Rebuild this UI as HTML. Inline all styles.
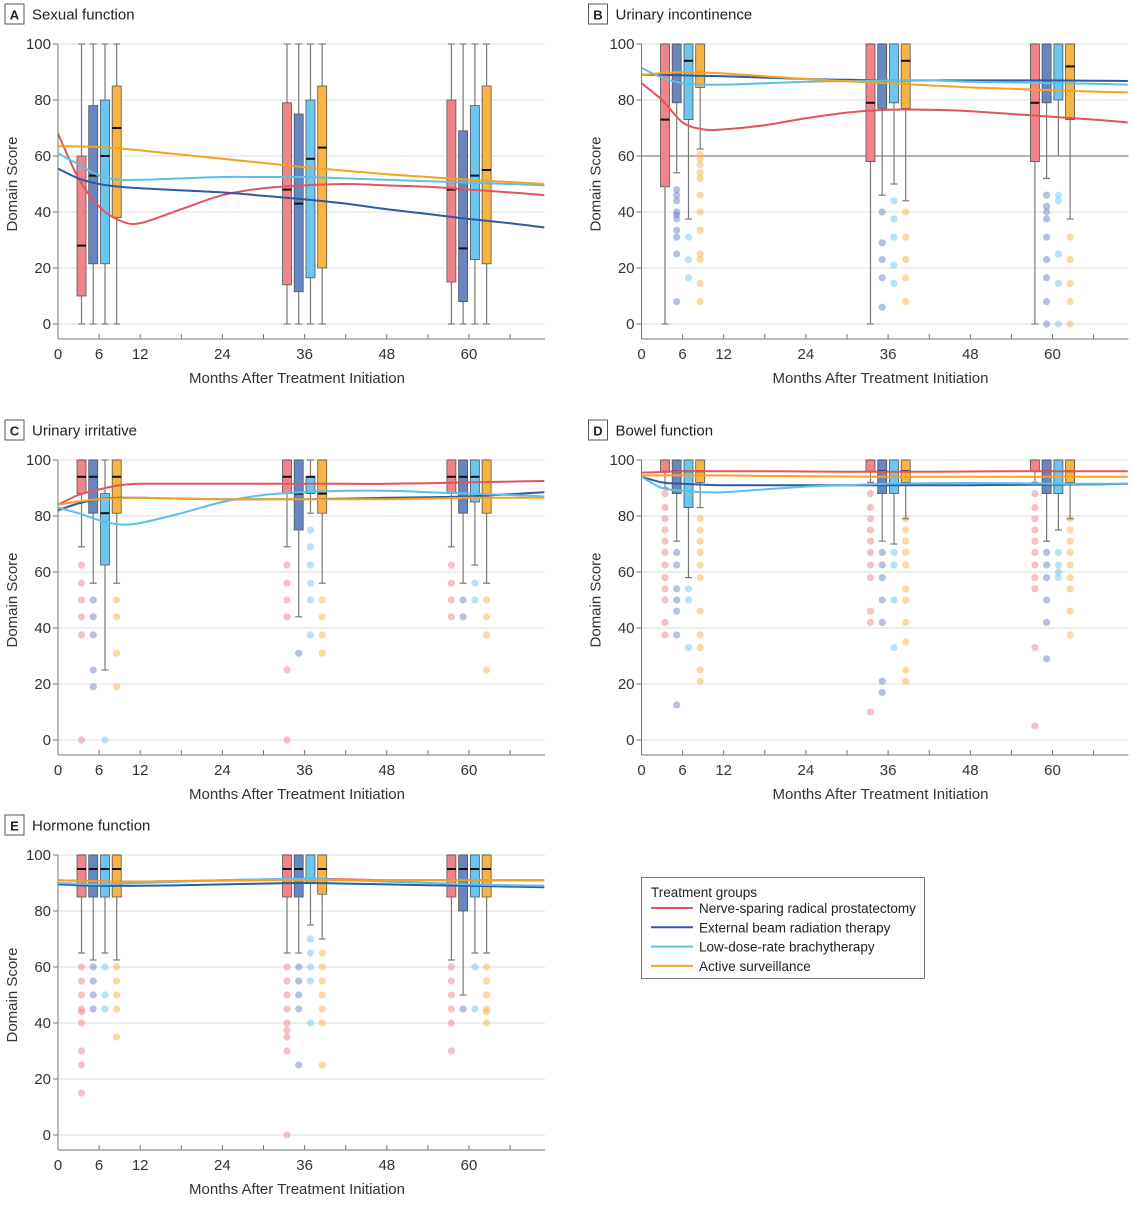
<!DOCTYPE html>
<html><head><meta charset="utf-8">
<style>
html,body{margin:0;padding:0;background:#fff;}
body{width:1131px;height:1200px;overflow:hidden;font-family:"Liberation Sans",sans-serif;}
svg text{font-family:"Liberation Sans",sans-serif;}
</style></head>
<body>
<svg id="chart" width="1131" height="1200" viewBox="0 0 1131 1200" xmlns="http://www.w3.org/2000/svg"></svg>
<script>
// ---- shared data ----
const timeMonths = [6, 36, 60];
const groupNames = ["Nerve-sparing radical prostatectomy","External beam radiation therapy","Low-dose-rate brachytherapy","Active surveillance"];
const xTicks = [0, 6, 12, 18, 24, 30, 36, 42, 48, 54, 60, 66];
const xTickLabels = ["0","6","12","","24","","36","","48","","60",""];
const yTicks = [0, 20, 40, 60, 80, 100];
const curveMonths = [0,3,6,9,12,18,24,30,36,42,48,54,60,66,71];

// ---- Panel A: Sexual function ----
const boxesA = [
 [0,10,28,60,100],[0,21.5,53,78,100],[0,21.5,60,80,100],[0,38,70,85,100],
 [0,14,48,79,100],[0,11.5,43,75,100],[0,16.5,59,80,100],[0,20,63,85,100],
 [0,15,48,80,100],[0,8,27,69,100],[0,23,53,78,100],[0,21.5,55,85,100]];
const outliersA = [[],[],[],[],[],[],[],[],[],[],[],[]];
const curveA_red = [68,52,42,37,36,41,46,48.5,49.5,50,49.5,49,48,47,46];
const curveA_blue = [55.5,52,50,49,48.5,47.7,47,45.8,44.5,43,41,39.3,37.5,36,34.5];
const curveA_cyan = [61,57,53,51.5,51.5,52,52.5,52.5,52.5,52,51.5,51,50.5,50,49.5];
const curveA_orange = [63.5,63.4,63.2,62.7,62,60.5,59,57.5,56,54.7,53.5,52.5,51.5,50.7,50];

// ---- Panel B: Urinary incontinence ----
const boxesB = [
 [0,49,73,100,100],[54,79,null,100,100],[37.5,73,94,100,100],[62.5,84.5,null,100,100],
 [0,58,79,100,100],[46,77,null,100,100],[50,79,null,100,100],[44,77,94,100,100],
 [0,58,79,100,100],[52,79,null,100,100],[60,80,null,100,100],[37.5,73,92,100,100]];
const outliersB = [
 [],[48,46,44,40,39,37.5,33.5,31,25,8],[31,23,16.5],[60.5,59,57,54,52,46,40,33.5,25,23,14.5,8],
 [],[40,29,23,16.5,6],[44,37.5,31,21,14.5],[40,31,23,16.5,8],
 [],[46,42,40,37.5,31,23,16.5,8,0],[46,44,25,14.5,0],[31,23,14.5,8,0]];
const curveB_red = [86,80,72,69.5,69.5,71,73.5,75.5,76.5,76.5,76,75,74,73,72];
const curveB_blue = [89,89,88.8,88.6,88.5,88,87.5,87.2,87,87,87,87,87,86.9,86.8];
const curveB_cyan = [91.5,88,86,85.5,85.5,86,86.5,86.8,87,87,86.5,86.3,86,85.8,85.5];
const curveB_orange = [89,89.6,90,89.8,89.5,88.5,87.5,86.7,86,85.2,84.5,84,83.5,83,82.7];

// ---- Panel C: Urinary irritative ----
const boxesC = [
 [69,88,94,100,100],[56,81,94,100,100],[25,62.5,81,88,100],[56,81,94,100,100],
 [69,88,94,100,100],[44,75,88,100,100],[81,88,94,94,100],[56,81,88,100,100],
 [69,88,94,100,100],[56,81,94,100,100],[62.5,85,94,100,100],[56,81,null,100,100]];
const outliersC = [
 [62.5,56,50,44,37.5,0],[50,44,37.5,25,19],[0],[50,44,31,19],
 [62.5,56,50,44,25,0],[31],[75,69,62.5,56,50,37.5],[50,44,37.5,31],
 [62.5,56,50,44],[50,44],[56,50],[50,44,37.5,25]];
const curveC_red = [84,87.5,89.5,91,91.5,91.5,91.5,91.5,91.5,91.5,91.5,91.7,92,92.3,92.5];
const curveC_blue = [82,84.5,86,86.5,86.5,86.2,86,86,86,86.2,86.5,86.7,87,87.8,88.5];
const curveC_cyan = [83,81,78.5,77,77.5,81,85,87.5,88.5,89,89,88.5,88,87.5,87];
const curveC_orange = [84,85.2,86,86.3,86.5,86.2,86,86,86,86,86,86.2,86.5,86.5,86.5];

// ---- Panel D: Bowel function ----
const boxesD = [
 [90,96,null,100,100],[71,88,96,100,100],[58,83,96,100,100],[83,92,96,100,100],
 [92,96,null,100,100],[71,88,96,100,100],[70,88,null,100,100],[79,92,96,100,100],
 [92,96,null,100,100],[71,88,96,100,100],[75,88,null,100,100],[79,92,96,100,100]];
const outliersD = [
 [88,83,79,75,71,67,62.5,58,54,50,42,37.5],[67,62.5,54,50,46,37.5,12.5],[54,50,33],[79,75,71,67,62.5,58,46,37.5,33,25,21],
 [88,83,79,75,71,67,62.5,58,46,42,10],[67,62.5,58,50,42,21,17],[67,62.5,50,33],[79,75,71,67,62.5,54,50,42,35,25,21],
 [88,83,79,75,71,67,62.5,58,54,33,5],[67,62.5,58,50,42,29],[67,62.5,60,58],[79,75,71,67,62.5,58,54,46,37.5]];
const curveD_red = [95.5,95.7,96,96,96,96,95.9,95.8,95.8,95.8,95.9,96,96,96,96];
const curveD_blue = [94,92,91.5,91.2,91,91,91,91,91,91,91,91.1,91.2,91.3,91.5];
const curveD_cyan = [94,90,89,88.5,88.5,89.5,90.5,91,91.5,91.7,91.8,91.7,91.5,91.5,91.5];
const curveD_orange = [94.5,94.5,94.5,94.5,94.5,94.3,94.2,94.1,94,94,94,94,94,94,94];

// ---- Panel E: Hormone function ----
const boxesE = [
 [65,85,95,100,100],[62.5,85,95,100,100],[65,85,95,100,100],[62.5,85,95,100,100],
 [65,85,95,100,100],[65,85,95,100,100],[75,90,null,100,100],[70,86,95,100,100],
 [62.5,85,95,100,100],[50,80,95,100,100],[65,85,95,100,100],[65,85,95,100,100]];
const outliersE = [
 [60,55,50,45,44,40,30,25,15],[60,55,50,45],[60,50,45],[60,55,50,45,35],
 [60,55,50,45,40,37.5,35,30,0],[60,55,50,45,25],[70,65,60,55,40],[65,60,55,50,45,40,25],
 [60,55,50,45,40,30],[45],[60,45],[60,55,50,45,44,40]];
const curveE_red = [91,90.8,90.6,90.5,90.5,90.7,91,91.3,91.5,91.3,91,91,91,91,91];
const curveE_blue = [89.5,89.2,89,89,89,89.2,89.5,89.8,90,89.8,89.5,89.2,89,88.7,88.5];
const curveE_cyan = [90,89.7,89.5,89.7,90,90.5,91,91.3,91.5,91,90.5,90,89.5,89.2,89];
const curveE_orange = [91,90.8,90.6,90.5,90.5,90.7,90.8,91,91,91,91,91,91,91,91];

// ---- styling / layout (not data) ----
const lineColors = ["#e5535b","#2e5aa6","#5dc0ea","#f5a21f"];
const boxColors = ["#f0848a","#6886c2","#6cc7f0","#f7b445"];
const groupOffsets = [-2.57,-0.86,0.86,2.57];
const NS = "http://www.w3.org/2000/svg";
const svg = document.getElementById("chart");

function mk(tag, attrs, parent){
  const e = document.createElementNS(NS, tag);
  for (const k in attrs) e.setAttribute(k, attrs[k]);
  (parent||svg).appendChild(e);
  return e;
}
function smoothPath(pts){
  let d = "M" + pts[0][0].toFixed(1) + "," + pts[0][1].toFixed(1);
  for (let i=0;i<pts.length-1;i++){
    const p0 = pts[Math.max(0,i-1)], p1 = pts[i], p2 = pts[i+1], p3 = pts[Math.min(pts.length-1,i+2)];
    const c1x = p1[0] + (p2[0]-p0[0])/6, c1y = p1[1] + (p2[1]-p0[1])/6;
    const c2x = p2[0] - (p3[0]-p1[0])/6, c2y = p2[1] - (p3[1]-p1[1])/6;
    d += " C" + c1x.toFixed(1)+","+c1y.toFixed(1)+" "+c2x.toFixed(1)+","+c2y.toFixed(1)+" "+p2[0].toFixed(1)+","+p2[1].toFixed(1);
  }
  return d;
}

function drawPanel(cfg){
  const g = mk("g", {});
  
  
  const pxPerMonth = 6.85;
  const xS = m => cfg.x0 + m * pxPerMonth;
  const yS = v => cfg.top + (100 - v) * 2.8;
  const right = cfg.x0 + 487;
  const axisY = cfg.top + 295;

  // title
  const lb = mk("rect", {x:cfg.x0-53, y:cfg.top-40, width:19, height:20, fill:"#fff", stroke:"#555", "stroke-width":1}, g);
  
  
  const lt = mk("text", {x:cfg.x0-43.5, y:cfg.top-24.5, "text-anchor":"middle", "font-size":13, "font-weight":"bold", fill:"#222"}, g);
  lt.textContent = cfg.letter;
  
  
  const tt = mk("text", {x:cfg.x0-26, y:cfg.top-24.5, "font-size":15, fill:"#222"}, g);
  tt.textContent = cfg.title;
  
  

  // gridlines and y ticks
  yTicks.forEach(v => {
    const gl = mk("line", {x1:cfg.x0, x2:right, y1:yS(v), y2:yS(v), stroke:"#dcdcdc", "stroke-width":1}, g);
    
    
    mk("line", {x1:cfg.x0-5, x2:cfg.x0, y1:yS(v), y2:yS(v), stroke:"#777", "stroke-width":1}, g);
    const t = mk("text", {x:cfg.x0-7, y:yS(v)+5, "text-anchor":"end", "font-size":15, fill:"#333"}, g);
    t.textContent = String(v);
    
    
  });
  if (cfg.refLine !== undefined){
    const rl = mk("line", {x1:cfg.x0, x2:right, y1:yS(cfg.refLine), y2:yS(cfg.refLine), stroke:"#666", "stroke-width":1}, g);
    
    
  }
  // axes
  const ya = mk("line", {x1:cfg.x0, x2:cfg.x0, y1:yS(100), y2:axisY, stroke:"#777", "stroke-width":1}, g);
  
  
  const xa = mk("line", {x1:cfg.x0, x2:right, y1:axisY, y2:axisY, stroke:"#777", "stroke-width":1}, g);
  
  
  xTicks.forEach((m,i) => {
    mk("line", {x1:xS(m), x2:xS(m), y1:axisY, y2:axisY-5, stroke:"#777", "stroke-width":1}, g);
    if (xTickLabels[i]){
      const t = mk("text", {x:xS(m), y:axisY+20, "text-anchor":"middle", "font-size":15, fill:"#333"}, g);
      t.textContent = xTickLabels[i];
      
      
    }
  });
  const xt = mk("text", {x:cfg.x0+239, y:axisY+44, "text-anchor":"middle", "font-size":15, fill:"#333"}, g);
  xt.textContent = "Months After Treatment Initiation";
  
  
  const ytl = mk("text", {x:0, y:0, transform:"translate("+(cfg.x0-41)+","+yS(50)+") rotate(-90)", "text-anchor":"middle", "font-size":15, fill:"#333"}, g);
  ytl.textContent = "Domain Score";
  
  

  // boxes
  timeMonths.forEach((tm, ti) => {
    for (let gi=0; gi<4; gi++){
      const b = cfg.boxes[ti*4+gi];
      const cx = xS(tm + groupOffsets[gi]);
      const bw = 9;
      // outliers
      cfg.outliers[ti*4+gi].forEach(v => {
        const c = mk("circle", {cx:cx, cy:yS(v), r:3.6, fill:boxColors[gi], "fill-opacity":0.5}, g);
        
        
      });
      mk("line", {x1:cx, x2:cx, y1:yS(b[0]), y2:yS(b[1]), stroke:"#7a7a7a", "stroke-width":1.2}, g);
      mk("line", {x1:cx, x2:cx, y1:yS(b[3]), y2:yS(b[4]), stroke:"#7a7a7a", "stroke-width":1.2}, g);
      mk("line", {x1:cx-3.5, x2:cx+3.5, y1:yS(b[0]), y2:yS(b[0]), stroke:"#7a7a7a", "stroke-width":1.2}, g);
      mk("line", {x1:cx-3.5, x2:cx+3.5, y1:yS(b[4]), y2:yS(b[4]), stroke:"#7a7a7a", "stroke-width":1.2}, g);
      const r = mk("rect", {x:cx-bw/2, y:yS(b[3]), width:bw, height:Math.max(0.5,yS(b[1])-yS(b[3])), fill:boxColors[gi], stroke:"#555", "stroke-width":0.8}, g);
      
      
      if (b[2] !== null){
        const md = mk("line", {x1:cx-bw/2, x2:cx+bw/2, y1:yS(b[2]), y2:yS(b[2]), stroke:"#111", "stroke-width":2}, g);
        
        
      }
    }
  });
  // curves
  cfg.curves.forEach((vals, si) => {
    const pts = curveMonths.map((m,i) => [xS(m), yS(vals[i])]);
    const p = mk("path", {d:smoothPath(pts), fill:"none", stroke:lineColors[si], "stroke-width":2}, g);
    
    
  });
}

drawPanel({name:"panel-sexual-function", letter:"A", title:"Sexual function", x0:58, top:44, boxes:boxesA, outliers:outliersA, curves:[curveA_red,curveA_blue,curveA_cyan,curveA_orange]});
drawPanel({name:"panel-urinary-incontinence", letter:"B", title:"Urinary incontinence", x0:641.5, top:44, boxes:boxesB, outliers:outliersB, curves:[curveB_red,curveB_blue,curveB_cyan,curveB_orange], refLine:60});
drawPanel({name:"panel-urinary-irritative", letter:"C", title:"Urinary irritative", x0:58, top:460, boxes:boxesC, outliers:outliersC, curves:[curveC_red,curveC_blue,curveC_cyan,curveC_orange]});
drawPanel({name:"panel-bowel-function", letter:"D", title:"Bowel function", x0:641.5, top:460, boxes:boxesD, outliers:outliersD, curves:[curveD_red,curveD_blue,curveD_cyan,curveD_orange]});
drawPanel({name:"panel-hormone-function", letter:"E", title:"Hormone function", x0:58, top:855, boxes:boxesE, outliers:outliersE, curves:[curveE_red,curveE_blue,curveE_cyan,curveE_orange]});

// legend
const lg = mk("g", {});


mk("rect", {x:641.5, y:877.5, width:283, height:101, fill:"#fff", stroke:"#777", "stroke-width":1}, lg);
const lgt = mk("text", {x:651, y:897, "font-size":13.5, fill:"#222"}, lg);
lgt.textContent = "Treatment groups";


groupNames.forEach((n, i) => {
  const y = 908 + i*19.3;
  mk("line", {x1:651, x2:693, y1:y, y2:y, stroke:lineColors[i], "stroke-width":2}, lg);
  const t = mk("text", {x:699, y:y+5, "font-size":13.5, fill:"#222"}, lg);
  t.textContent = n;
  
  
});
</script>
</body></html>
